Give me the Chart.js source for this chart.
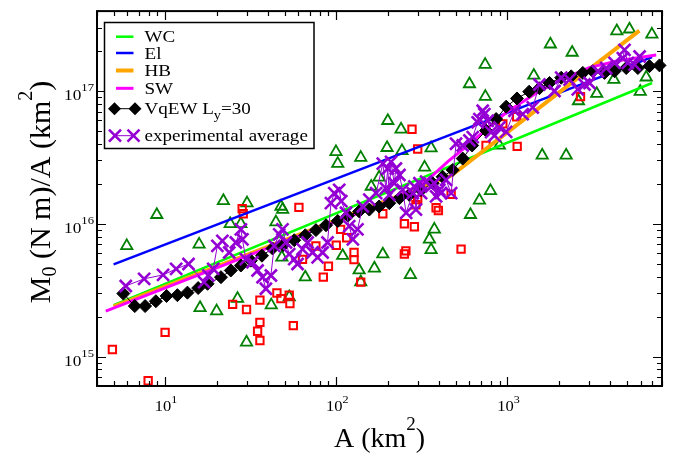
<!DOCTYPE html>
<html>
<head>
<meta charset="utf-8">
<script src="https://cdn.jsdelivr.net/npm/chart.js@4.4.1/dist/chart.umd.min.js"></script>
<style>
  html, body { margin: 0; padding: 0; background: #fff; }
  #wrap { width: 681px; height: 457px; position: relative; }
</style>
</head>
<body>
<div id="wrap"><canvas id="c"></canvas></div>
<script>
// Scatter of individual events: rupture area A (km^2) vs M0/A (N m / km^2)
const triangleA = [5.97, 8.94, 21.9, 30.1, 15.8, 24.0, 27.7, 47.5, 48.6, 44.4, 48.1, 65.9, 26.5, 53.1, 16.0, 20.0, 41.7, 29.9,
  99.6, 102, 741, 600, 743, 200, 239, 198, 358, 139, 1426, 897, 1782, 2388, 4355, 5165, 6980, 3325, 2600, 4185, 6470, 5970,
  1596, 2203, 328, 178, 160, 796, 686, 608, 374, 350, 358, 187, 109, 167, 136, 271, 139, 242];
const triangleM = [6.82e15, 1.17e16, 1.49e16, 1.43e16, 7.0e15, 1.0e16, 1.0e16, 1.35e16, 1.28e16, 1.03e16, 5.58e15, 3.96e15, 2.73e15, 2.81e15, 2.33e15, 2.2e15, 2.44e15, 1.28e15,
  3.48e16, 2.84e16, 1.58e17, 1.13e17, 9.08e16, 5.97e16, 5.15e16, 3.74e16, 3.72e16, 3.15e16, 1.31e17, 3.89e16, 2.25e17, 1.95e17, 2.83e17, 2.92e17, 2.67e17, 9.55e16, 8.41e16, 1.22e17, 1.27e17, 9.89e16,
  3.28e16, 3.28e16, 2.66e16, 2.24e16, 1.91e16, 1.77e16, 1.5e16, 1.17e16, 9.07e15, 7.64e15, 6.37e15, 5.9e15, 5.75e15, 4.62e15, 4.47e15, 4.12e15, 3.64e15, 3.54e16];

const squareA = [4.92, 7.96, 10.0, 24.8, 29.9, 35.8, 35.8, 34.7, 35.8, 45.0, 47.5, 53.1, 53.6, 56.1, 28.2, 28.6, 60.5, 63.5,
  76, 84, 90, 100, 106, 115, 127, 127, 139, 187, 250, 286, 250, 255, 277, 299, 292, 299, 383, 395, 469, 536,
  750, 940, 1140, 1133, 2673];
const squareM = [1.13e15, 6.57e14, 1.52e15, 2.47e15, 2.26e15, 2.66e15, 1.81e15, 1.55e15, 1.32e15, 3.01e15, 2.73e15, 2.9e15, 2.51e15, 1.71e15, 1.3e16, 1.19e16, 1.33e16, 5.4e15,
  6.8e15, 3.96e15, 4.79e15, 6.89e15, 9.07e15, 7.85e15, 6.08e15, 5.37e15, 3.64e15, 1.19e16, 1.0e16, 9.5e15, 5.92e15, 6.25e15, 5.15e16, 3.66e16, 1.39e16, 1.52e16, 1.32e16, 1.26e16, 1.67e16, 6.44e15,
  3.89e16, 5.65e16, 3.83e16, 6.4e16, 9.08e16];

// Scaling relations
const wcA = [5, 7000];
const wcM = [2.44e15, 1.15e17];
const elA = [5, 7000];
const elM = [4.95e15, 1.8e17];
const hbA = [5, 470, 5900];
const hbM = [2.38e15, 2.31e16, 2.85e17];
const swA = [4.5, 30, 100, 200, 250, 350, 450, 600, 800, 1000, 1500, 2000, 3000, 4500, 7400];
const swM = [2.2e15, 5.7e15, 1.04e16, 1.47e16, 1.7e16, 2.2e16, 2.95e16, 4.0e16, 5.5e16, 7.0e16, 9.8e16, 1.2e17, 1.5e17, 1.7e17, 1.87e17];

// VqEW simulation, L_y = 30
const vqewA = [5.70, 6.65, 7.64, 8.83, 10.2, 11.8, 13.5, 15.6, 17.7, 21.2, 24.2, 27.7, 31.7, 36.8, 42.4, 49, 56.8, 65.9,
  76.1, 87.1, 102, 117, 136, 156, 178, 204, 234, 267, 313, 366, 418, 479, 548, 622, 750, 859, 983, 1137, 1340, 1538,
  1762, 2062, 2358, 2756, 3155, 3691, 4224, 4943, 5781, 6761, 7738];
const vqewM = [2.98e15, 2.40e15, 2.40e15, 2.61e15, 2.86e15, 2.90e15, 3.03e15, 3.28e15, 3.53e15, 3.96e15, 4.45e15, 4.85e15, 5.28e15, 5.75e15, 6.52e15, 6.9e15, 7.52e15, 8.19e15,
  8.96e15, 9.75e15, 1.05e16, 1.15e16, 1.24e16, 1.28e16, 1.35e16, 1.43e16, 1.56e16, 1.65e16, 1.80e16, 2.02e16, 2.26e16, 2.54e16, 3.10e16, 3.89e16, 5.04e16, 6.15e16, 7.62e16, 8.79e16, 9.89e16, 1.05e17,
  1.15e17, 1.26e17, 1.29e17, 1.37e17, 1.41e17, 1.37e17, 1.41e17, 1.49e17, 1.49e17, 1.54e17, 1.56e17];

// Running experimental average
const expA = [5.89, 7.54, 9.73, 11.6, 13.7, 16.9, 17.9, 19.1, 20.2, 21.6, 23.7, 25.9, 27.7, 28.3, 29.6, 32.4, 34.7, 37.1, 38.8, 41.5,
  43.4, 46.4, 48.5, 50.8, 53.1, 56.8, 59.4, 63.5, 68.0, 72.7, 77.8, 83.2, 88.9, 93.1, 97.3, 104, 107, 114, 119, 125,
  133, 143, 156, 171, 187, 195, 200, 204, 209, 218, 223, 234, 244, 256, 280, 286, 292, 306, 313, 335,
  358, 374, 383, 400, 409, 438, 469, 501, 548, 600, 627, 670, 686, 717, 733, 767, 803, 840, 898, 983,
  1099, 1228, 1406, 1538, 1883, 2062, 2307, 2578, 2820, 3017, 3376, 3777, 4224, 4725, 4830, 5054, 5532, 5918];
const expM = [3.40e15, 3.85e15, 4.12e15, 4.57e15, 4.98e15, 3.64e15, 4.08e15, 4.57e15, 6.82e15, 7.44e15, 6.08e15, 7.23e15, 9.07e15, 7.64e15, 5.42e15, 5.13e15, 4.45e15, 3.96e15, 3.24e15, 4.08e15,
  6.82e15, 8.32e15, 9.07e15, 7.23e15, 5.91e15, 5.42e15, 4.98e15, 6.44e15, 7.23e15, 6.08e15, 5.58e15, 6.08e15, 7.23e15, 1.43e16, 1.70e16, 1.80e16, 1.48e16, 1.21e16, 9.61e15, 7.64e15,
  9.07e15, 1.35e16, 1.52e16, 1.70e16, 2.84e16, 1.85e16, 2.61e16, 1.65e16, 2.93e16, 2.02e16, 2.61e16, 2.33e16, 1.80e16, 1.21e16, 1.70e16, 1.91e16, 1.28e16, 2.02e16, 1.70e16, 2.08e16,
  1.91e16, 2.02e16, 1.61e16, 1.80e16, 1.70e16, 2.14e16, 1.70e16, 4.01e16, 3.89e16, 4.24e16, 4.50e16, 5.81e16, 6.15e16, 7.10e16, 6.70e16, 5.97e16, 4.90e16, 4.62e16, 5.33e16, 4.92e16,
  7.10e16, 6.70e16, 7.52e16, 1.12e17, 1.00e17, 1.26e17, 1.22e17, 1.03e17, 1.12e17, 1.15e17, 1.41e17, 1.49e17, 1.63e17, 1.77e17, 2.04e17, 1.63e17, 1.58e17, 1.82e17];

// Axis ranges and decade tick exponents
const xRange = [4, 8000];
const yRange = [6e14, 4e17];
const xTickExps = [1, 2, 3];
const yTickExps = [15, 16, 17];

const legendLabels = ['WC', 'El', 'HB', 'SW', 'VqEW L|y|=30', 'experimental average'];

const SERIF = '"Liberation Serif", "Times New Roman", serif';
const pts = (xs, ys) => xs.map((v, i) => ({ x: v, y: ys[i] }));

const PURPLE = '#9400d3';

const datasets = [
  { label: 'experimental average', data: pts(expA, expM), showLine: true, borderColor: PURPLE, borderWidth: 1,
    pointStyle: 'crossRot', pointRadius: 8.5, pointBorderColor: PURPLE, pointBorderWidth: 2.6, pointBackgroundColor: PURPLE, order: 0 },
  { label: 'VqEW', data: pts(vqewA, vqewM), showLine: true, borderColor: '#000', borderWidth: 1,
    pointStyle: 'rectRot', pointRadius: 6.5, pointBackgroundColor: '#000', pointBorderColor: '#000', pointBorderWidth: 1, order: 1 },
  { label: 'SW', data: pts(swA, swM), showLine: true, borderColor: '#ff00ff', borderWidth: 3, pointRadius: 0, order: 2 },
  { label: 'HB', data: pts(hbA, hbM), showLine: true, borderColor: '#ffa500', borderWidth: 4, pointRadius: 0, order: 3 },
  { label: 'El', data: pts(elA, elM), showLine: true, borderColor: '#0000ff', borderWidth: 2.5, pointRadius: 0, order: 4 },
  { label: 'WC', data: pts(wcA, wcM), showLine: true, borderColor: '#00ff00', borderWidth: 2.5, pointRadius: 0, order: 5 },
  { label: 'squares', data: pts(squareA, squareM), showLine: false, pointStyle: 'rect', pointRadius: 5.2,
    pointBorderColor: '#ff0000', pointBorderWidth: 2, pointBackgroundColor: 'rgba(0,0,0,0)', order: 6 },
  { label: 'triangles', data: pts(triangleA, triangleM), showLine: false, pointStyle: 'triangle', pointRadius: 6.5,
    pointBorderColor: '#008000', pointBorderWidth: 1.8, pointBackgroundColor: 'rgba(0,0,0,0)', order: 7 }
];
datasets.forEach(d => { d.clip = false; d.tension = 0; d.fill = false; });

// rich text: parts of {t, size, dy}
function richWidth(ctx, parts) {
  let w = 0;
  for (const p of parts) { ctx.font = p.size + 'px ' + SERIF; w += ctx.measureText(p.t).width; }
  return w;
}
function drawRich(ctx, parts, x, y, align, sx) {
  ctx.save();
  ctx.translate(x, y);
  ctx.scale(sx || 1, 1);
  const w = richWidth(ctx, parts);
  let cx = align === 'center' ? -w / 2 : (align === 'right' ? -w : 0);
  ctx.textAlign = 'left';
  ctx.textBaseline = 'alphabetic';
  ctx.fillStyle = '#000';
  for (const p of parts) {
    ctx.font = p.size + 'px ' + SERIF;
    ctx.fillText(p.t, cx, p.dy || 0);
    cx += ctx.measureText(p.t).width;
  }
  ctx.restore();
}

const frameAxes = {
  id: 'frameAxes',
  afterDatasetsDraw(chart) {
    const ctx = chart.ctx, a = chart.chartArea;
    const xs = chart.scales.x, ys = chart.scales.y;
    ctx.save();
    ctx.strokeStyle = '#000';
    ctx.lineWidth = 2;
    ctx.strokeRect(a.left, a.top, a.right - a.left, a.bottom - a.top);
    ctx.lineWidth = 1.2;
    ctx.beginPath();
    // x ticks, bottom and top, pointing inward
    for (let e = 0; e <= 3; e++) {
      for (let m = 1; m <= 9; m++) {
        const v = m * Math.pow(10, e);
        if (v < xRange[0] || v > xRange[1]) continue;
        const px = Math.round(xs.getPixelForValue(v)) + 0.5;
        const len = m === 1 ? 9 : 5;
        ctx.moveTo(px, a.bottom); ctx.lineTo(px, a.bottom - len);
        ctx.moveTo(px, a.top); ctx.lineTo(px, a.top + len);
      }
    }
    // y ticks, left and right
    for (let e = 14; e <= 17; e++) {
      for (let m = 1; m <= 9; m++) {
        const v = m * Math.pow(10, e);
        if (v < yRange[0] || v > yRange[1]) continue;
        const py = Math.round(ys.getPixelForValue(v)) + 0.5;
        const len = m === 1 ? 9 : 5;
        ctx.moveTo(a.left, py); ctx.lineTo(a.left + len, py);
        ctx.moveTo(a.right, py); ctx.lineTo(a.right - len, py);
      }
    }
    ctx.stroke();

    // tick labels
    for (const e of xTickExps) {
      const px = xs.getPixelForValue(Math.pow(10, e));
      drawRich(ctx, [{ t: '10', size: 15 }, { t: String(e), size: 11, dy: -8 }], px + 1, a.bottom + 25, 'center', 1.1);
    }
    for (const e of yTickExps) {
      const py = ys.getPixelForValue(Math.pow(10, e));
      drawRich(ctx, [{ t: '10', size: 15 }, { t: String(e), size: 11, dy: -9 }], a.left - 3, py + 9, 'right', 1.15);
    }

    // axis titles
    drawRich(ctx, [{ t: 'A (km', size: 28 }, { t: '2', size: 19, dy: -17 }, { t: ')', size: 28 }],
      (a.left + a.right) / 2, 447, 'center', 1);
    ctx.save();
    ctx.translate(50, 192);
    ctx.rotate(-Math.PI / 2);
    drawRich(ctx, [{ t: 'M', size: 30 }, { t: '0', size: 20, dy: 6 }, { t: ' (N m)/A (km', size: 30 },
      { t: '2', size: 20, dy: -18 }, { t: ')', size: 30 }], 0, 0, 'center', 1);
    ctx.restore();
    ctx.restore();
  },
  afterDraw(chart) {
    const ctx = chart.ctx;
    ctx.save();
    // legend box
    const bx = 104.5, by = 22.5, bw = 209.5, bh = 126;
    ctx.fillStyle = '#fff';
    ctx.fillRect(bx, by, bw, bh);
    ctx.strokeStyle = '#000';
    ctx.lineWidth = 1.5;
    ctx.strokeRect(bx, by, bw, bh);

    const rowsY = [36.7, 53, 70.5, 88.3, 108.7, 135.7];
    const lineSets = [datasets[5], datasets[4], datasets[3], datasets[2]];
    lineSets.forEach((d, i) => {
      ctx.strokeStyle = d.borderColor;
      ctx.lineWidth = d.borderWidth;
      ctx.beginPath();
      ctx.moveTo(116, rowsY[i]); ctx.lineTo(133.5, rowsY[i]);
      ctx.stroke();
    });
    // diamonds
    const dy = rowsY[4];
    ctx.strokeStyle = '#000'; ctx.lineWidth = 1;
    ctx.beginPath(); ctx.moveTo(114.5, dy); ctx.lineTo(135, dy); ctx.stroke();
    ctx.fillStyle = '#000';
    [114.5, 135].forEach(cx => {
      ctx.beginPath();
      ctx.moveTo(cx - 6.5, dy); ctx.lineTo(cx, dy - 6.5); ctx.lineTo(cx + 6.5, dy); ctx.lineTo(cx, dy + 6.5);
      ctx.closePath(); ctx.fill();
    });
    // crosses
    const cy = rowsY[5];
    ctx.strokeStyle = PURPLE; ctx.lineWidth = 1;
    ctx.beginPath(); ctx.moveTo(115, cy); ctx.lineTo(133.5, cy); ctx.stroke();
    ctx.lineWidth = 2.6;
    [115, 133.5].forEach(cx => {
      const r = 6;
      ctx.beginPath();
      ctx.moveTo(cx - r, cy - r); ctx.lineTo(cx + r, cy + r);
      ctx.moveTo(cx - r, cy + r); ctx.lineTo(cx + r, cy - r);
      ctx.stroke();
    });

    // labels
    const tx = 144.5;
    const sx = 1.19;
    for (let i = 0; i < legendLabels.length; i++) {
      const lab = legendLabels[i];
      let parts;
      if (lab.indexOf('|') >= 0) {
        const seg = lab.split('|');
        parts = [{ t: seg[0], size: 16 }, { t: seg[1], size: 12, dy: 5 }, { t: seg[2], size: 16 }];
      } else {
        parts = [{ t: lab, size: 16 }];
      }
      drawRich(ctx, parts, tx, rowsY[i] + 5.5, 'left', sx);
    }
    ctx.restore();
  }
};

new Chart(document.getElementById('c'), {
  type: 'scatter',
  data: { datasets },
  options: {
    responsive: true,
    maintainAspectRatio: false,
    animation: false,
    layout: { padding: { left: 97, right: 19, top: 6, bottom: 71 } },
    plugins: { legend: { display: false }, tooltip: { enabled: false } },
    scales: {
      x: { type: 'logarithmic', min: xRange[0], max: xRange[1], display: false },
      y: { type: 'logarithmic', min: yRange[0], max: yRange[1], display: false }
    }
  },
  plugins: [frameAxes]
});
</script>
</body>
</html>
